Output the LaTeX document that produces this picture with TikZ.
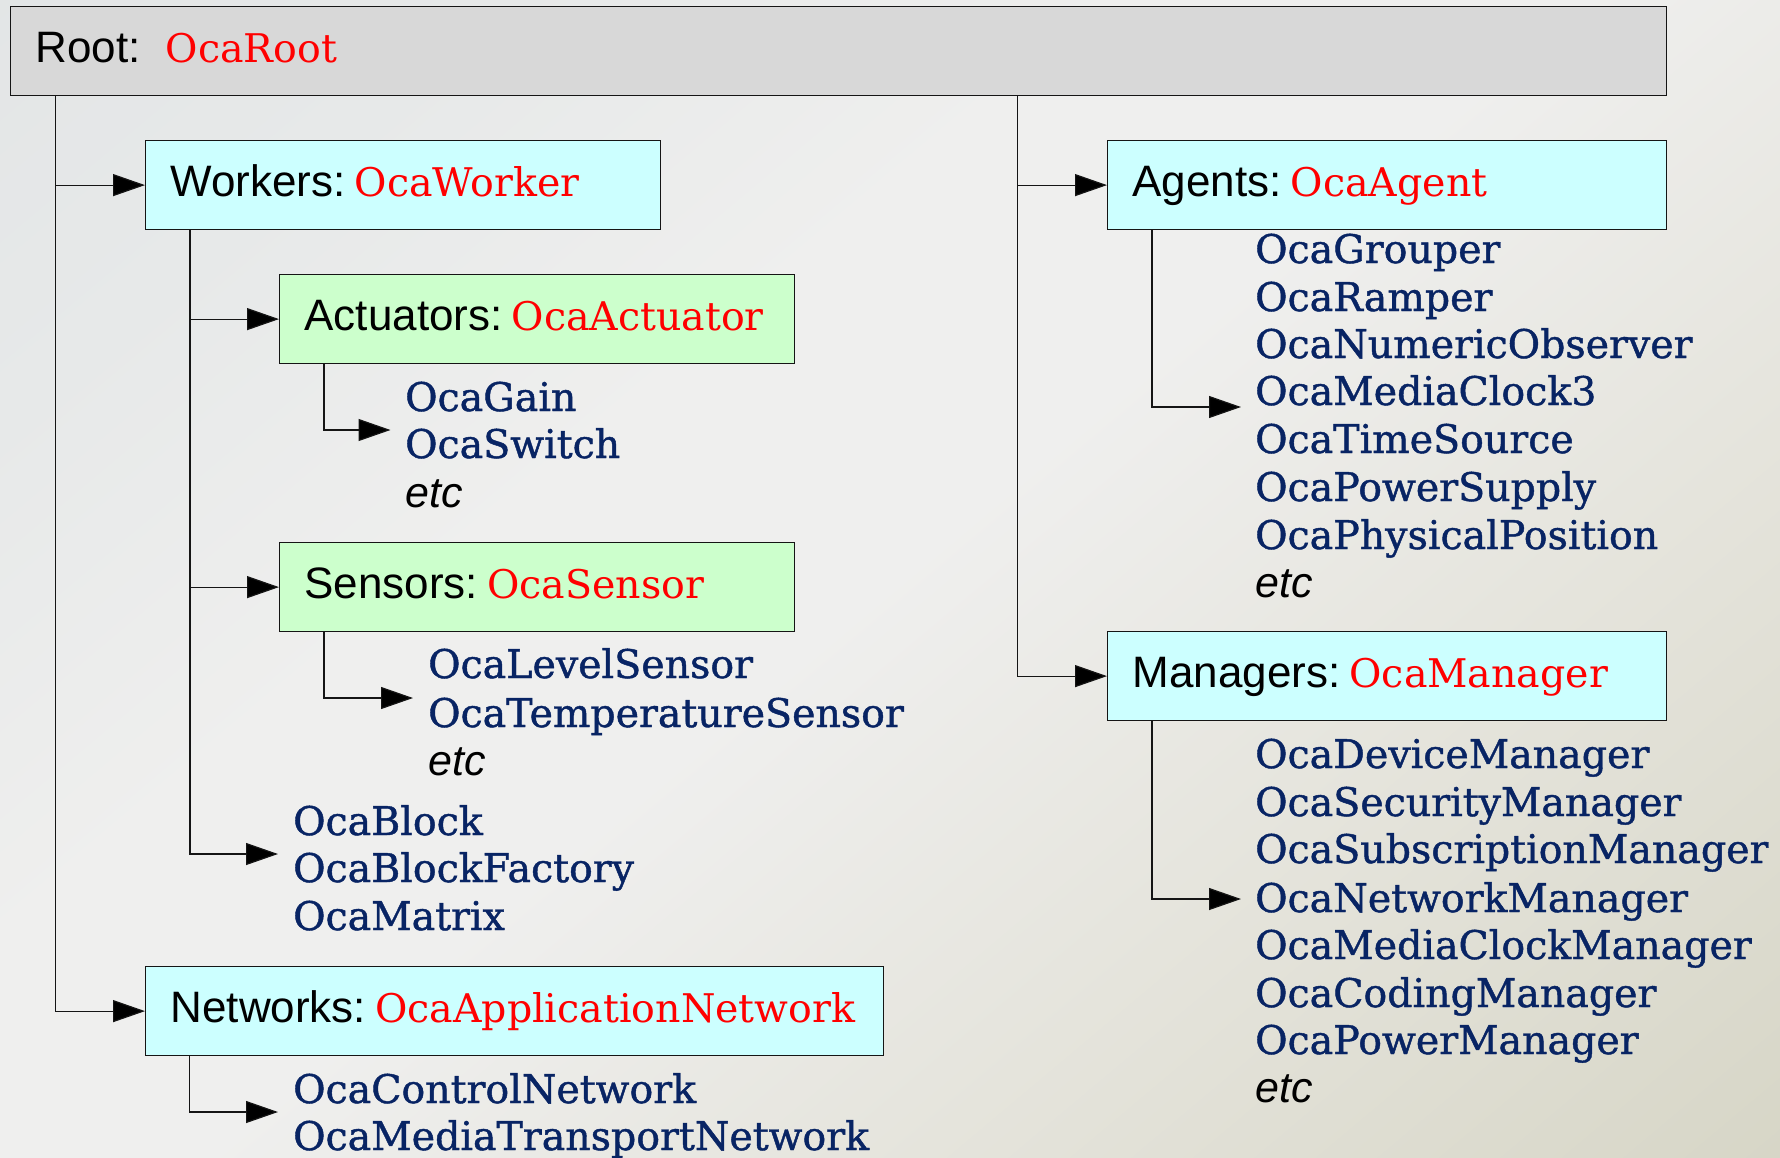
\documentclass[tikz,border=0pt]{standalone}
\usepackage{fontspec}
\setmainfont{Liberation Sans}
\newfontfamily\clsfont{DejaVu Serif}
\newfontfamily\itemfont[FakeBold=1.1]{DejaVu Serif}
\usetikzlibrary{arrows.meta}

\definecolor{ocared}{HTML}{FF0000}
\definecolor{ocablue}{HTML}{082464}
\definecolor{rootfill}{HTML}{D8D8D8}
\definecolor{cyanfill}{HTML}{CCFFFF}
\definecolor{greenfill}{HTML}{CCFFCC}
\definecolor{edge}{HTML}{151515}
\definecolor{bgA}{HTML}{DEE1E3}
\definecolor{bgA2}{HTML}{E7E9E9}
\definecolor{bgB}{HTML}{EFEFEE}
\definecolor{bgC2}{HTML}{E5E4DC}
\definecolor{bgC}{HTML}{D5D4C4}

% backdrop: lightest in the middle, grey at the upper left, warm at the lower right
\pgfdeclareverticalshading{backdrop}{100bp}{%
  color(0bp)=(bgC); color(12bp)=(bgC); color(34bp)=(bgC2);
  color(50bp)=(bgB); color(60bp)=(bgB); color(74bp)=(bgA2);
  color(100bp)=(bgA)}

% class names inside the headers
\newcommand{\rcls}[1]{\textcolor{ocared}{\clsfont\fontsize{39.5}{47.7}\selectfont #1}}

\begin{document}
\begin{tikzpicture}[x=1pt,y=-1pt,
  box/.style={draw=edge, line width=1.2pt, anchor=north west,
    inner xsep=25pt, inner ysep=0pt, minimum height=89pt,
    text height=30pt, text depth=8pt, align=left,
    font=\fontsize{44}{48}\selectfont},
  item/.style={anchor=base west, inner sep=0pt, text=ocablue,
    font=\itemfont\fontsize{39.5}{47.7}\selectfont},
  etcitem/.style={anchor=base west, inner sep=0pt, text=black,
    font=\fontsize{43}{48}\selectfont\itshape},
  conn/.style={draw=edge, line width=1.2pt},
  arr/.style={conn, -{Triangle[length=32pt,width=22pt,fill=black]}},
]

% page and backdrop
\useasboundingbox (0,0) rectangle (1780,1157);
\shade[shading=backdrop, shading angle=40] (0,0) rectangle (1780,1157);

% header boxes
\node[box, fill=rootfill, text width=1606pt] (root) at (10,6) {Root:\hspace{25pt}\rcls{OcaRoot}};
\node[box, fill=cyanfill, text width=465pt] (workers) at (145,140) {Workers:\hspace{9pt}\rcls{OcaWorker}};
\node[box, fill=cyanfill, text width=509pt] (agents) at (1107,140) {Agents:\hspace{9pt}\rcls{OcaAgent}};
\node[box, fill=greenfill, text width=465pt] (actuators) at (279,274) {Actuators:\hspace{9pt}\rcls{OcaActuator}};
\node[box, fill=greenfill, text width=465pt] (sensors) at (279,542) {Sensors:\hspace{9pt}\rcls{OcaSensor}};
\node[box, fill=cyanfill, text width=509pt] (managers) at (1107,631) {Managers:\hspace{9pt}\rcls{OcaManager}};
\node[box, fill=cyanfill, text width=688pt] (networks) at (145,966) {Networks:\hspace{9pt}\rcls{OcaApplicationNetwork}};

% actuator classes
\node[item] (gain) at (405,411) {OcaGain};
\node[item] (switch) at (405,458) {OcaSwitch};
\node[etcitem] (actetc) at (405,507) {etc};

% sensor classes
\node[item] (level) at (428,678) {OcaLevelSensor};
\node[item] (temp) at (428,727) {OcaTemperatureSensor};
\node[etcitem] (senetc) at (428,775) {etc};

% other worker classes
\node[item] (block) at (293,835) {OcaBlock};
\node[item] (factory) at (293,882) {OcaBlockFactory};
\node[item] (matrix) at (293,930) {OcaMatrix};

% network classes
\node[item] (ctrlnet) at (293,1103) {OcaControlNetwork};
\node[item] (medianet) at (293,1150) {OcaMediaTransportNetwork};

% agent classes
\node[item] (grouper) at (1255,263) {OcaGrouper};
\node[item] (ramper) at (1255,311) {OcaRamper};
\node[item] (numobs) at (1255,358) {OcaNumericObserver};
\node[item] (clock) at (1255,405) {OcaMediaClock3};
\node[item] (timesrc) at (1255,453) {OcaTimeSource};
\node[item] (psu) at (1255,501) {OcaPowerSupply};
\node[item] (physpos) at (1255,549) {OcaPhysicalPosition};
\node[etcitem] (agetc) at (1255,597) {etc};

% manager classes
\node[item] (devmgr) at (1255,768) {OcaDeviceManager};
\node[item] (secmgr) at (1255,816) {OcaSecurityManager};
\node[item] (submgr) at (1255,863) {OcaSubscriptionManager};
\node[item] (netmgr) at (1255,912) {OcaNetworkManager};
\node[item] (clkmgr) at (1255,959) {OcaMediaClockManager};
\node[item] (codmgr) at (1255,1007) {OcaCodingManager};
\node[item] (pwrmgr) at (1255,1054) {OcaPowerManager};
\node[etcitem] (mgretc) at (1255,1102) {etc};

% branch points and arrow targets
\coordinate (rootL) at ([xshift=45.5pt]root.south west);
\coordinate (rootR) at (root.south -| 1017.5,0);
\coordinate (wkL) at ([xshift=45pt]workers.south west);
\coordinate (acL) at ([xshift=45pt]actuators.south west);
\coordinate (seL) at ([xshift=45pt]sensors.south west);
\coordinate (agL) at ([xshift=45pt]agents.south west);
\coordinate (mgL) at ([xshift=45pt]managers.south west);
\coordinate (nwL) at ([xshift=44.5pt]networks.south west);
\coordinate (actTip) at (390.5,430);
\coordinate (senTip) at (413,698);
\coordinate (blkTip) at (278,854);
\coordinate (netTip) at (278,1112);
\coordinate (agTip) at (1241,407);
\coordinate (mgTip) at (1241,899);

% connectors
\draw[arr] (rootL) |- (workers.west);
\draw[arr] (rootL) |- (networks.west);
\draw[arr] (rootR) |- (agents.west);
\draw[arr] (rootR) |- (managers.west);
\draw[arr] (wkL) |- (actuators.west);
\draw[arr] (wkL) |- (sensors.west);
\draw[arr] (wkL) |- (blkTip);
\draw[arr] (acL) |- (actTip);
\draw[arr] (seL) |- (senTip);
\draw[arr] (nwL) |- (netTip);
\draw[arr] (agL) |- (agTip);
\draw[arr] (mgL) |- (mgTip);

\end{tikzpicture}
\end{document}
